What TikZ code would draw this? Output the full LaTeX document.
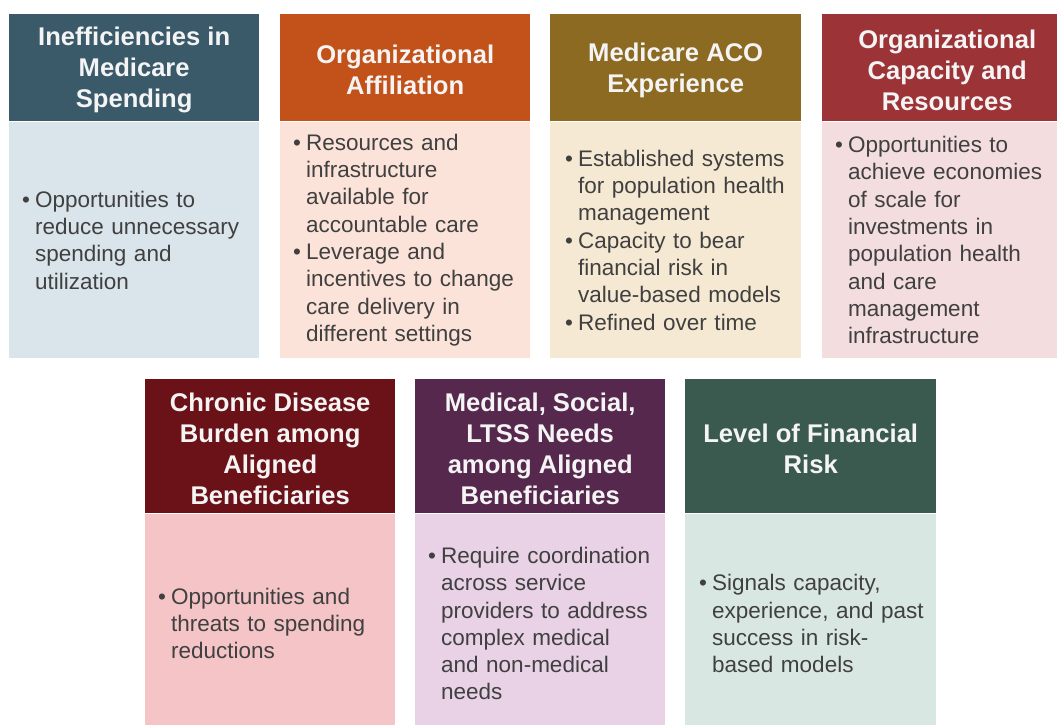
\documentclass[tikz,border=0pt]{standalone}
\usepackage{fontspec}
\setmainfont{Liberation Sans}
\definecolor{hA}{HTML}{3A5A6A}\definecolor{bA}{HTML}{DAE4EB}
\definecolor{hB}{HTML}{C25219}\definecolor{bB}{HTML}{FCE3D9}
\definecolor{hC}{HTML}{8C6A22}\definecolor{bC}{HTML}{F5E9D3}
\definecolor{hD}{HTML}{9C3336}\definecolor{bD}{HTML}{F3DDDE}
\definecolor{hE}{HTML}{6B1219}\definecolor{bE}{HTML}{F4C4C7}
\definecolor{hF}{HTML}{57284D}\definecolor{bF}{HTML}{E9D1E6}
\definecolor{hG}{HTML}{3A5A50}\definecolor{bG}{HTML}{D9E7E2}
\definecolor{bodytext}{HTML}{404040}
\definecolor{hdrtext}{HTML}{F4F4F4}
\newcommand\bul[1]{\par\noindent\hangindent=13pt\hangafter=1\makebox[13pt][l]{\textbullet}#1\par}
\newcommand\nl{\hfil\break}
\begin{document}
\begin{tikzpicture}[x=1pt,y=-1pt,
  hdr/.style={rectangle,anchor=north west,inner sep=0pt,minimum width=250pt},
  hdrtxt/.style={inner sep=0pt,text=hdrtext,align=center,font=\fontsize{25.6}{31.2}\selectfont\bfseries,yshift=-2.5pt},
  bodybox/.style={rectangle,anchor=north west,inner sep=0pt,minimum width=250pt},
  bodytxt/.style={anchor=west,inner sep=0pt,text width=225pt,align=left,
    text=bodytext,font=\fontsize{22.5}{27.3}\selectfont},
  toptxt/.style={bodytxt,yshift=5pt},
  bottxt/.style={bodytxt,yshift=1pt}]
\useasboundingbox (0,0) rectangle (1057,724);
% top row
\node[hdr,fill=hA,minimum height=107pt] (h1) at (9,14) {};
\node[hdrtxt] (l1) at (h1.center) {Inefficiencies in\\Medicare\\Spending};
\node[bodybox,fill=bA,minimum height=236pt] (b1) at (h1.south west) {};
\node[toptxt] (t1) at ([xshift=13pt]b1.west) {\bul{Opportunities to\nl reduce unnecessary\nl spending and\nl utilization}};

\node[hdr,fill=hB,minimum height=107pt] (h2) at (280,14) {};
\node[hdrtxt] (l2) at (h2.center) {Organizational\\Affiliation};
\node[bodybox,fill=bB,minimum height=236pt] (b2) at (h2.south west) {};
\node[toptxt] (t2) at ([xshift=13pt]b2.west) {\bul{Resources and\nl infrastructure\nl available for\nl accountable care}\bul{Leverage and\nl incentives to change\nl care delivery in\nl different settings}};

\node[hdr,fill=hC,minimum height=107pt,minimum width=251pt] (h3) at (550,14) {};
\node[hdrtxt] (l3) at (h3.center) {Medicare ACO\\Experience};
\node[bodybox,fill=bC,minimum height=236pt,minimum width=251pt] (b3) at (h3.south west) {};
\node[toptxt] (t3) at ([xshift=15pt]b3.west) {\bul{Established systems\nl for population health\nl management}\bul{Capacity to bear\nl financial risk in\nl value-based models}\bul{Refined over time}};

\node[hdr,fill=hD,minimum height=107pt,minimum width=250pt] (h4) at (822,14) {};
\node[hdrtxt] (l4) at (h4.center) {Organizational\\Capacity and\\Resources};
\node[bodybox,fill=bD,minimum height=236pt] (b4) at (h4.south west) {};
\node[toptxt] (t4) at ([xshift=13pt]b4.west) {\bul{Opportunities to\nl achieve economies\nl of scale for\nl investments in\nl population health\nl and care\nl management\nl infrastructure}};

% bottom row
\node[hdr,fill=hE,minimum height=134pt] (h5) at (145,379) {};
\node[hdrtxt] (l5) at (h5.center) {Chronic Disease\\Burden among\\Aligned\\Beneficiaries};
\node[bodybox,fill=bE,minimum height=211pt] (b5) at (h5.south west) {};
\node[bottxt] (t5) at ([xshift=13pt]b5.west) {\bul{Opportunities and\nl threats to spending\nl reductions}};

\node[hdr,fill=hF,minimum height=134pt] (h6) at (415,379) {};
\node[hdrtxt] (l6) at (h6.center) {Medical, Social,\\LTSS Needs\\among Aligned\\Beneficiaries};
\node[bodybox,fill=bF,minimum height=211pt] (b6) at (h6.south west) {};
\node[bottxt] (t6) at ([xshift=13pt]b6.west) {\bul{Require coordination\nl across service\nl providers to address\nl complex medical\nl and non-medical\nl needs}};

\node[hdr,fill=hG,minimum height=134pt,minimum width=251pt] (h7) at (685,379) {};
\node[hdrtxt] (l7) at (h7.center) {Level of Financial\\Risk};
\node[bodybox,fill=bG,minimum height=211pt,minimum width=251pt] (b7) at (h7.south west) {};
\node[bottxt] (t7) at ([xshift=14pt]b7.west) {\bul{Signals capacity,\nl experience, and past\nl success in risk-\nl based models}};
\end{tikzpicture}
\end{document}
